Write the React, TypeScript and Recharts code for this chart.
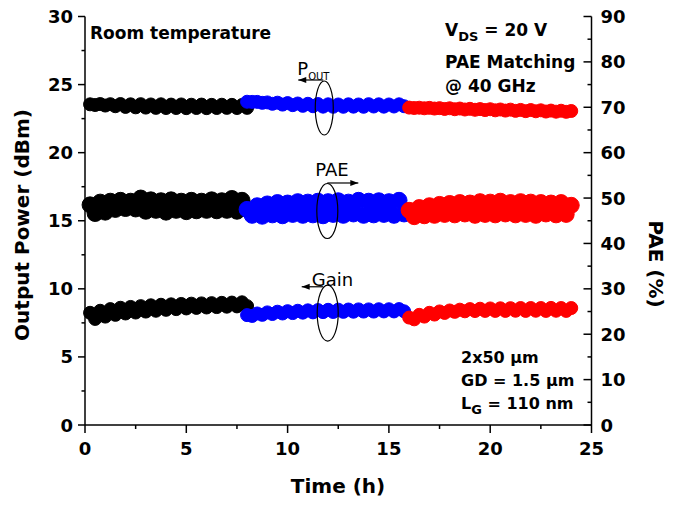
import { ComposedChart, Scatter, XAxis, YAxis, ReferenceDot } from 'recharts';

// time stamps (h) of each stress run
const tBlack = [0.25, 0.5, 0.75, 1.0, 1.25, 1.5, 1.75, 2.0, 2.25, 2.5, 2.75, 3.0, 3.25, 3.5, 3.75, 4.0,
  4.25, 4.5, 4.75, 5.0, 5.25, 5.5, 5.75, 6.0, 6.25, 6.5, 6.75, 7.0, 7.25, 7.5, 7.75, 8.0];
const tBlue = [8.0, 8.25, 8.5, 8.75, 9.0, 9.25, 9.5, 9.75, 10.0, 10.25, 10.5, 10.75, 11.0, 11.25, 11.5, 11.75,
  12.0, 12.25, 12.5, 12.75, 13.0, 13.25, 13.5, 13.75, 14.0, 14.25, 14.5, 14.75, 15.0, 15.25, 15.5, 15.75];
const tRed = [16.0, 16.25, 16.5, 16.75, 17.0, 17.25, 17.5, 17.75, 18.0, 18.25, 18.5, 18.75, 19.0, 19.25, 19.5, 19.75,
  20.0, 20.25, 20.5, 20.75, 21.0, 21.25, 21.5, 21.75, 22.0, 22.25, 22.5, 22.75, 23.0, 23.25, 23.5, 23.75, 24.0];

// output power (dBm)
const poutBlack = [23.55, 23.5, 23.57, 23.46, 23.56, 23.41, 23.57, 23.36, 23.55, 23.33, 23.56, 23.31, 23.54, 23.29, 23.55, 23.28,
  23.53, 23.28, 23.54, 23.27, 23.52, 23.28, 23.53, 23.27, 23.51, 23.28, 23.52, 23.29, 23.51, 23.28, 23.5, 23.29];
const poutBlue = [23.74, 23.73, 23.73, 23.66, 23.69, 23.59, 23.67, 23.53, 23.64, 23.49, 23.61, 23.44, 23.59, 23.41, 23.57, 23.38,
  23.55, 23.37, 23.54, 23.37, 23.55, 23.38, 23.54, 23.37, 23.56, 23.39, 23.55, 23.38, 23.54, 23.39, 23.55, 23.41];
const poutRed = [23.31, 23.28, 23.3, 23.26, 23.29, 23.24, 23.27, 23.21, 23.26, 23.19, 23.24, 23.17, 23.22, 23.15, 23.2, 23.13,
  23.19, 23.11, 23.17, 23.09, 23.16, 23.07, 23.14, 23.05, 23.13, 23.04, 23.11, 23.02, 23.09, 23.01, 23.08, 23.0, 23.06];

// PAE (%)
const paeBlack = [48.5, 46.6, 49.1, 46.9, 49.3, 47.5, 49.5, 47.7, 49.3, 47.6, 50.0, 47.1, 49.6, 47.3, 49.4, 46.9,
  49.6, 47.3, 49.3, 47.0, 49.5, 47.2, 49.3, 47.3, 49.6, 47.2, 49.4, 47.3, 49.9, 47.1, 49.5, 47.5];
const paeBlue = [47.5, 46.2, 48.3, 46.0, 48.7, 46.3, 49.0, 46.1, 48.9, 46.4, 49.2, 46.2, 49.1, 46.3, 49.3, 46.1,
  49.2, 46.4, 49.4, 46.2, 49.1, 46.5, 49.5, 46.2, 49.3, 46.3, 49.4, 46.4, 49.2, 46.2, 49.5, 46.5];
const paeRed = [47.3, 45.9, 47.9, 46.1, 48.3, 46.2, 48.6, 46.4, 48.8, 46.3, 49.0, 46.5, 48.9, 46.2, 49.2, 46.4,
  49.1, 46.3, 49.3, 46.5, 49.0, 46.3, 49.2, 46.4, 49.1, 46.2, 49.0, 46.5, 48.9, 46.3, 49.0, 46.4, 48.4];

// gain (dB)
const gainBlack = [8.24, 7.79, 8.39, 7.96, 8.51, 8.09, 8.61, 8.19, 8.67, 8.26, 8.73, 8.33, 8.79, 8.39, 8.83, 8.46,
  8.86, 8.51, 8.89, 8.56, 8.91, 8.6, 8.93, 8.63, 8.95, 8.66, 8.97, 8.69, 8.99, 8.71, 9.01, 8.73];
const gainBlue = [8.07, 8.01, 8.19, 8.09, 8.27, 8.15, 8.32, 8.19, 8.36, 8.22, 8.39, 8.25, 8.42, 8.27, 8.44, 8.29,
  8.46, 8.3, 8.47, 8.31, 8.48, 8.32, 8.49, 8.33, 8.49, 8.33, 8.5, 8.34, 8.5, 8.34, 8.51, 8.35];
const gainRed = [7.89, 7.76, 8.09, 7.96, 8.24, 8.11, 8.34, 8.23, 8.41, 8.31, 8.47, 8.35, 8.51, 8.37, 8.54, 8.38,
  8.56, 8.38, 8.57, 8.38, 8.58, 8.39, 8.59, 8.38, 8.59, 8.39, 8.59, 8.38, 8.6, 8.39, 8.59, 8.38, 8.59];

const xTicks = [0, 2.5, 5, 7.5, 10, 12.5, 15, 17.5, 20, 22.5, 25];
const leftTicks = [0, 2.5, 5, 7.5, 10, 12.5, 15, 17.5, 20, 22.5, 25, 27.5, 30];
const rightTicks = [0, 5, 10, 15, 20, 25, 30, 35, 40, 45, 50, 55, 60, 65, 70, 75, 80, 85, 90];

const FONT = '"DejaVu Sans", Arial, sans-serif';

const pts = (ts: number[], vs: number[]) => ts.map((t, i) => ({ t, v: vs[i] }));

const dot = (color: string, r: number) => (p: any) => (
  <circle cx={p.cx} cy={p.cy} r={r} fill={color} stroke={color} strokeWidth={1} />
);

const BottomTick = (p: any) => {
  const major = p.payload.value % 5 === 0;
  return (
    <g>
      <line x1={p.x} y1={p.y} x2={p.x} y2={p.y + (major ? 8 : 4)} stroke="#000" strokeWidth={1.5} />
      {major && (
        <text x={p.x} y={p.y + 30} textAnchor="middle" fontFamily={FONT} fontWeight="bold" fontSize={18} fill="#000">
          {p.payload.value}
        </text>
      )}
    </g>
  );
};

const TopTick = (p: any) => {
  const major = p.payload.value % 5 === 0;
  return <line x1={p.x} y1={p.y} x2={p.x} y2={p.y + (major ? 7 : 3.5)} stroke="#000" strokeWidth={1.5} />;
};

const LeftTick = (p: any) => {
  const major = p.payload.value % 5 === 0;
  return (
    <g>
      <line x1={p.x - (major ? 7 : 3.5)} y1={p.y} x2={p.x} y2={p.y} stroke="#000" strokeWidth={1.5} />
      {major && (
        <text x={p.x - 12} y={p.y + 6.5} textAnchor="end" fontFamily={FONT} fontWeight="bold" fontSize={18} fill="#000">
          {p.payload.value}
        </text>
      )}
    </g>
  );
};

const RightTick = (p: any) => {
  const major = p.payload.value % 10 === 0;
  return (
    <g>
      <line x1={p.x - (major ? 8 : 4)} y1={p.y} x2={p.x} y2={p.y} stroke="#000" strokeWidth={1.5} />
      {major && (
        <text x={p.x + 9} y={p.y + 6.5} textAnchor="start" fontFamily={FONT} fontWeight="bold" fontSize={18} fill="#000">
          {p.payload.value}
        </text>
      )}
    </g>
  );
};

// ellipse marking a trace, with an arrow pointing to its axis
const Marker = (label: string, sub: string, dir: 'left' | 'right', rx: number, ry: number, lx: number, ly: number, ax1: number, ax2: number, ay: number) =>
  (p: any) => {
    const cx = p.cx;
    const cy = p.cy;
    const tip = cx + ax2;
    const head = dir === 'left'
      ? `${tip},${cy + ay} ${tip + 8},${cy + ay - 3} ${tip + 8},${cy + ay + 3}`
      : `${tip},${cy + ay} ${tip - 8},${cy + ay - 3} ${tip - 8},${cy + ay + 3}`;
    return (
      <g>
        <ellipse cx={cx} cy={cy} rx={rx} ry={ry} fill="none" stroke="#000" strokeWidth={1.2} />
        <line x1={cx + ax1} y1={cy + ay} x2={tip} y2={cy + ay} stroke="#000" strokeWidth={1.2} />
        <polygon points={head} fill="#000" />
        <text x={cx + lx} y={cy + ly} fontFamily={FONT} fontSize={18} fill="#000">
          {label}
          {sub && <tspan dy={5} fontSize={10}>{sub}</tspan>}
        </text>
      </g>
    );
  };

const bold = { fontFamily: FONT, fontWeight: 'bold' as const, fill: '#000' };

export default function App() {
  const series = [
    { c: '#000000', t: tBlack, pout: poutBlack, pae: paeBlack, gain: gainBlack },
    { c: '#0000ff', t: tBlue, pout: poutBlue, pae: paeBlue, gain: gainBlue },
    { c: '#ff0000', t: tRed, pout: poutRed, pae: paeRed, gain: gainRed },
  ];
  return (
    <div style={{ position: 'absolute', left: 0, top: 0, width: 674, height: 505, background: '#fff' }}>
      <ComposedChart width={674} height={505} margin={{ top: 16.5, right: 22.5, bottom: 40, left: 25 }}>
        <XAxis
          xAxisId="b"
          type="number"
          dataKey="t"
          domain={[0, 25]}
          ticks={xTicks}
          interval={0}
          height={40}
          tickSize={0}
          tickMargin={0}
          tickLine={false}
          tick={<BottomTick />}
          axisLine={{ stroke: '#000', strokeWidth: 1.5 }}
        />
        <XAxis
          xAxisId="top"
          orientation="top"
          type="number"
          dataKey="t"
          domain={[0, 25]}
          ticks={xTicks}
          interval={0}
          height={0}
          tickSize={0}
          tickMargin={0}
          tickLine={false}
          tick={<TopTick />}
          axisLine={{ stroke: '#000', strokeWidth: 1.5 }}
        />
        <YAxis
          yAxisId="left"
          type="number"
          dataKey="v"
          domain={[0, 30]}
          ticks={leftTicks}
          interval={0}
          width={60}
          tickSize={0}
          tickMargin={0}
          tickLine={false}
          tick={<LeftTick />}
          axisLine={{ stroke: '#000', strokeWidth: 1.5 }}
        />
        <YAxis
          yAxisId="right"
          orientation="right"
          type="number"
          dataKey="v"
          domain={[0, 90]}
          ticks={rightTicks}
          interval={0}
          width={60}
          tickSize={0}
          tickMargin={0}
          tickLine={false}
          tick={<RightTick />}
          axisLine={{ stroke: '#000', strokeWidth: 1.5 }}
        />
        {series.map((s) => [
          <Scatter key={s.c + 'p'} xAxisId="b" yAxisId="left" data={pts(s.t, s.pout)} dataKey="v" shape={dot(s.c, 6.5)} isAnimationActive={false} />,
          <Scatter key={s.c + 'e'} xAxisId="b" yAxisId="right" data={pts(s.t, s.pae)} dataKey="v" shape={dot(s.c, 8)} isAnimationActive={false} />,
          <Scatter key={s.c + 'g'} xAxisId="b" yAxisId="left" data={pts(s.t, s.gain)} dataKey="v" shape={dot(s.c, 6.5)} isAnimationActive={false} />,
        ])}
        <ReferenceDot xAxisId="b" yAxisId="left" x={11.81} y={23.28} shape={Marker('P', 'OUT', 'left', 9, 27, -27, -33, -1, -26, -28)} />
        <ReferenceDot xAxisId="b" yAxisId="right" x={11.96} y={47.15} shape={Marker('PAE', '', 'right', 10.5, 27.5, -12, -35, 0, 31, -28)} />
        <ReferenceDot xAxisId="b" yAxisId="left" x={11.98} y={8.22} shape={Marker('Gain', '', 'left', 10.5, 28, -16, -27, -4.5, -26, -26.3)} />
      </ComposedChart>
      <svg width={674} height={505} style={{ position: 'absolute', left: 0, top: 0, pointerEvents: 'none' }}>
        <text x={90} y={39} fontSize={17} {...bold}>Room temperature</text>
        <text x={445} y={36} fontSize={17} {...bold}>
          V<tspan dy={5} fontSize={13}>DS</tspan><tspan dy={-5}> = 20 V</tspan>
        </text>
        <text x={445} y={68} fontSize={17} {...bold}>PAE Matching</text>
        <text x={445} y={92} fontSize={17} {...bold}>@ 40 GHz</text>
        <text x={461} y={362.7} fontSize={16} {...bold}>2x50 µm</text>
        <text x={461} y={386} fontSize={16} {...bold}>GD = 1.5 µm</text>
        <text x={461} y={409} fontSize={16} {...bold}>
          L<tspan dy={5} fontSize={13}>G</tspan><tspan dy={-5}> = 110 nm</tspan>
        </text>
        <text x={338} y={493} textAnchor="middle" fontSize={20} {...bold}>Time (h)</text>
        <text transform="translate(29 225) rotate(-90)" textAnchor="middle" fontSize={20} {...bold}>Output Power (dBm)</text>
        <text transform="translate(649 264) rotate(90)" textAnchor="middle" fontSize={20} {...bold}>PAE (%)</text>
      </svg>
    </div>
  );
}
